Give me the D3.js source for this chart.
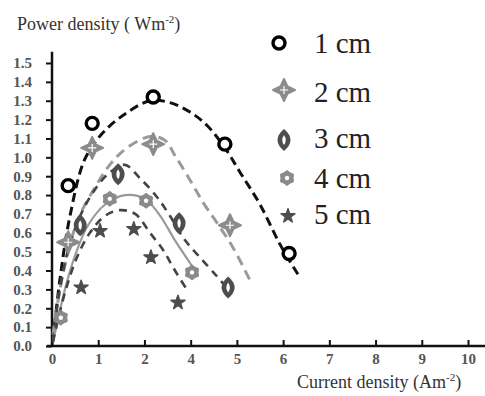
<!DOCTYPE html>
<html>
<head>
<meta charset="utf-8">
<script src="https://cdn.jsdelivr.net/npm/d3@7"></script>
<style>
  body { margin: 0; background: #fff; }
</style>
</head>
<body>
<script>
// canvas size
const width = 485;
const height = 396;
const serif = '"Liberation Serif", "DejaVu Serif", serif';

// series names
const seriesNames = ['1 cm', '2 cm', '3 cm', '4 cm', '5 cm'];

// x tick labels as printed (the "3" is missing in the original)
const xTickValues = [0, 1, 2, 4, 5, 6, 7, 8, 9, 10];
const yTickValues = d3.range(0, 16).map(d => d / 10);

// measured points
const p1x = [0.35, 0.87, 2.38, 4.74, 6.13];
const p1y = [0.85, 1.18, 1.32, 1.07, 0.49];
const p2x = [0.35, 0.87, 2.38, 4.85];
const p2y = [0.55, 1.05, 1.07, 0.64];
const p3x = [0.61, 1.43, 3.50, 4.81];
const p3y = [0.64, 0.91, 0.65, 0.31];
const p4x = [0.19, 1.25, 2.07, 4.03];
const p4y = [0.15, 0.78, 0.77, 0.39];
const p5x = [0.63, 1.04, 1.77, 2.28, 3.45];
const p5y = [0.31, 0.61, 0.62, 0.47, 0.23];

// fitted curves
const f1x = [0.02, 0.17, 0.39, 0.71, 1.10, 1.58, 2.24, 3.10, 3.97, 4.35, 4.74, 5.07, 5.50, 5.93, 6.32];
const f1y = [0.03, 0.35, 0.69, 0.99, 1.13, 1.23, 1.30, 1.29, 1.24, 1.17, 1.05, 0.92, 0.75, 0.54, 0.38];
const f2x = [0.02, 0.13, 0.30, 0.56, 0.93, 1.25, 1.62, 2.24, 2.89, 3.32, 3.97, 4.27, 4.55, 4.92, 5.30];
const f2y = [0.06, 0.24, 0.45, 0.67, 0.84, 0.96, 1.05, 1.11, 1.09, 1.01, 0.88, 0.76, 0.66, 0.52, 0.34];
const f3x = [0.02, 0.17, 0.35, 0.61, 0.93, 1.25, 1.58, 1.90, 2.54, 3.10, 3.76, 4.20, 4.53, 4.74];
const f3y = [0.03, 0.30, 0.51, 0.69, 0.83, 0.92, 0.96, 0.89, 0.79, 0.69, 0.56, 0.47, 0.38, 0.32];
const f4x = [0.02, 0.13, 0.28, 0.50, 0.78, 1.15, 1.58, 2.02, 2.68, 3.32, 3.97, 4.14];
const f4y = [0.02, 0.14, 0.30, 0.48, 0.64, 0.75, 0.80, 0.78, 0.69, 0.56, 0.44, 0.38];
const f5x = [0.02, 0.13, 0.30, 0.54, 0.82, 1.15, 1.47, 1.80, 2.24, 2.80, 3.32, 3.88];
const f5y = [0.02, 0.14, 0.30, 0.47, 0.60, 0.69, 0.72, 0.70, 0.60, 0.51, 0.40, 0.29];

const pointsX = [p1x, p2x, p3x, p4x, p5x];
const pointsY = [p1y, p2y, p3y, p4y, p5y];
const fitX = [f1x, f2x, f3x, f4x, f5x];
const fitY = [f1y, f2y, f3y, f4y, f5y];

const svg = d3.select('body').append('svg')
  .attr('width', width)
  .attr('height', height);

// plot area edges
const x0 = 52, x1 = 468, y0 = 346, y1 = 63;

// x scale: evenly spaced printed ticks
const step = (x1 - x0) / (xTickValues.length - 1);
const xScale = d3.scaleLinear()
  .domain(xTickValues)
  .range(xTickValues.map((d, i) => x0 + i * step));

const yScale = d3.scaleLinear().domain([0, 1.5]).range([y0, y1]);

// y axis
const gy = svg.append('g')
  .attr('transform', 'translate(' + x0 + ',0)')
  .call(d3.axisLeft(yScale).tickValues(yTickValues).tickSize(6).tickSizeOuter(0)
    .tickPadding(14).tickFormat(d3.format('.1f')));
gy.attr('font-family', serif);
gy.select('.domain').remove();
gy.selectAll('line').attr('stroke', '#111').attr('stroke-width', 2);
gy.selectAll('text').attr('font-size', 15).attr('font-weight', 'bold')
  .attr('fill', '#555').attr('font-family', serif);
svg.append('line')
  .attr('x1', x0).attr('x2', x0)
  .attr('y1', y0 + 1).attr('y2', yScale(1.56))
  .attr('stroke', '#111').attr('stroke-width', 2.5);

// x axis
const gx = svg.append('g')
  .attr('transform', 'translate(0,' + y0 + ')')
  .call(d3.axisBottom(xScale).tickValues(xTickValues).tickSize(-6).tickSizeOuter(0)
    .tickPadding(7).tickFormat(d3.format('d')));
gx.attr('font-family', serif);
gx.select('.domain').remove();
gx.selectAll('line').attr('stroke', '#111').attr('stroke-width', 2);
gx.selectAll('text').attr('font-size', 15).attr('font-weight', 'bold')
  .attr('fill', '#555').attr('font-family', serif);
svg.append('line')
  .attr('x1', 47).attr('x2', width)
  .attr('y1', y0).attr('y2', y0)
  .attr('stroke', '#111').attr('stroke-width', 2.5);

// axis titles
const t1 = svg.append('text').attr('x', 17).attr('y', 30)
  .attr('font-family', serif).attr('font-size', 18).attr('fill', '#333');
t1.append('tspan').text('Power density ( Wm');
t1.append('tspan').attr('font-size', 11).attr('dy', -7).text('-2');
t1.append('tspan').attr('dy', 7).text(')');

const t2 = svg.append('text').attr('x', 297).attr('y', 388)
  .attr('font-family', serif).attr('font-size', 18).attr('fill', '#333');
t2.append('tspan').text('Current density (Am');
t2.append('tspan').attr('font-size', 11).attr('dy', -7).text('-2');
t2.append('tspan').attr('dy', 7).text(')');

// line styles
const lineStyles = [
  { stroke: '#111', width: 3, dash: '9,5' },
  { stroke: '#9a9a9a', width: 3, dash: '10,6' },
  { stroke: '#444', width: 2.6, dash: '8,6' },
  { stroke: '#9a9a9a', width: 2.2, dash: null },
  { stroke: '#444', width: 2.6, dash: '8,6' }
];

const line = d3.line()
  .x(d => xScale(d[0]))
  .y(d => yScale(d[1]))
  .curve(d3.curveCatmullRom);

fitX.forEach((fx, k) => {
  const pts = fx.map((v, i) => [v, fitY[k][i]]);
  svg.append('path')
    .attr('d', line(pts))
    .attr('fill', 'none')
    .attr('stroke', lineStyles[k].stroke)
    .attr('stroke-width', lineStyles[k].width)
    .attr('stroke-dasharray', lineStyles[k].dash);
});

// markers
function starPoly(n, R, r, rot) {
  const pts = [];
  for (let i = 0; i < n * 2; i++) {
    const a = rot + i * Math.PI / n;
    const rr = i % 2 === 0 ? R : r;
    pts.push([rr * Math.sin(a), -rr * Math.cos(a)]);
  }
  return 'M' + pts.map(p => p[0].toFixed(2) + ',' + p[1].toFixed(2)).join('L') + 'Z';
}

function drawMarker(g, k) {
  if (k === 0) {
    g.append('circle').attr('r', 6).attr('fill', '#fff')
      .attr('stroke', '#000').attr('stroke-width', 3.4);
  } else if (k === 1) {
    g.append('path').attr('d', starPoly(4, 11, 5, 0)).attr('fill', '#8c8c8c')
      .attr('stroke', '#8c8c8c').attr('stroke-width', 2).attr('stroke-linejoin', 'round');
    g.append('path').attr('d', 'M-4,0H4M0,-4V4')
      .attr('stroke', '#fff').attr('stroke-width', 1.2);
  } else if (k === 2) {
    g.append('path').attr('d', 'M0,-11Q13,0 0,11Q-13,0 0,-11Z')
      .attr('fill', '#4d4d4d');
    g.append('path').attr('d', 'M0,-5Q3.5,0 0,5Q-3.5,0 0,-5Z')
      .attr('fill', '#fff');
  } else if (k === 3) {
    g.append('path').attr('d', starPoly(6, 7.5, 6, 0)).attr('fill', '#8a8a8a')
      .attr('stroke', '#8a8a8a').attr('stroke-width', 1).attr('stroke-linejoin', 'round');
    g.append('circle').attr('r', 2.2).attr('fill', '#fff');
  } else {
    g.append('path').attr('d', d3.symbol().type(d3.symbolStar).size(60)())
      .attr('fill', '#4d4d4d')
      .attr('stroke', '#4d4d4d').attr('stroke-width', 1.5).attr('stroke-linejoin', 'round');
  }
}

pointsX.forEach((px, k) => {
  px.forEach((v, i) => {
    const g = svg.append('g')
      .attr('transform', 'translate(' + xScale(v) + ',' + yScale(pointsY[k][i]) + ')');
    drawMarker(g, k);
  });
});

// legend
const legendMarkX = [279, 284, 284, 287, 288];
const legendMarkY = [43, 90, 140, 178, 216];
const legendTextY = [53, 102, 148, 188, 224];
seriesNames.forEach((name, k) => {
  const g = svg.append('g')
    .attr('transform', 'translate(' + legendMarkX[k] + ',' + legendMarkY[k] + ')');
  drawMarker(g, k);
  svg.append('text')
    .attr('x', 314).attr('y', legendTextY[k])
    .attr('font-family', serif)
    .attr('font-size', 29).attr('fill', '#222')
    .text(name);
});
</script>
</body>
</html>
